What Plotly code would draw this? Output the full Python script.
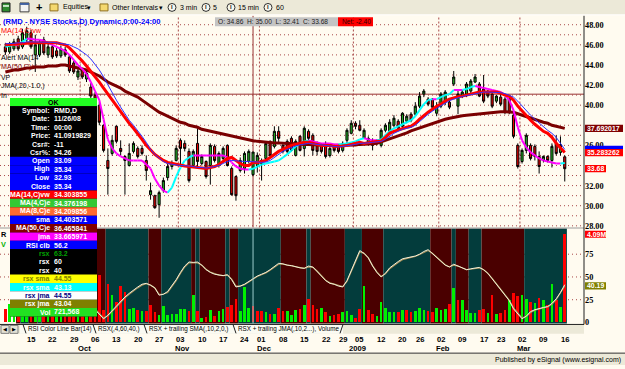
import plotly.graph_objects as go
import pandas as pd

W, H = 625, 369

# ---------------- data ----------------
holidays = ["2008-11-27", "2008-12-25", "2009-01-01", "2009-01-19", "2009-02-16"]
dates = pd.bdate_range("2008-09-05", "2009-03-16", freq="C", holidays=holidays)

opens = [45.8, 45.3, 45.6, 46.6, 45.8, 46.5, 47.2, 45.0, 45.0, 46.5,
         45.0, 45.8, 45.4, 44.9, 45.5, 44.8, 44.2, 42.8, 43.5, 42.6,
         41.8, 41.0, 40.0, 38.0, 34.5, 35.2, 37.9, 35.7, 34.9, 34.0,
         35.4, 35.7, 35.7, 34.5, 31.1, 31.0, 30.1, 31.5, 32.8, 33.9,
         34.5, 36.5, 36.2, 35.4, 34.0, 36.2, 34.2, 34.4, 34.0, 35.9,
         34.0, 34.7, 36.0, 33.7, 32.9, 33.5, 33.7, 34.4, 33.09, 34.0,
         34.2, 34.7, 36.4, 35.9, 37.4, 36.0, 36.4, 36.7, 35.0, 36.9,
         35.7, 37.4, 37.0, 36.2, 36.0, 36.2, 35.0, 35.9, 35.9, 35.5,
         36.5, 37.2, 38.2, 38.0, 36.7, 36.2, 36.5, 36.5, 36.0, 37.5,
         37.2, 38.0, 38.4, 37.9, 38.4, 39.1, 39.1, 39.9, 41.1, 40.6,
         40.6, 39.2, 39.9, 40.4, 40.3, 42.1, 39.9, 40.9, 41.1, 41.4,
         42.3, 42.1, 41.6, 41.4, 41.1, 40.4, 40.8, 40.6, 40.6, 39.0,
         36.0, 34.4, 35.5, 36.0, 35.9, 34.9, 34.5, 34.9, 34.5, 36.2,
         35.3, 34.86]
highs = [46.2, 46.3, 46.6, 46.9, 47.6, 47.8, 47.5, 47.0, 46.5, 46.8,
         46.1, 46.0, 45.7, 45.9, 45.8, 45.0, 44.4, 43.6, 43.7, 43.4,
         42.2, 41.3, 40.3, 38.1, 35.7, 37.0, 38.0, 36.5, 35.0, 36.2,
         36.4, 35.9, 36.0, 35.0, 32.3, 31.1, 31.5, 32.8, 34.2, 34.5,
         36.0, 36.7, 36.5, 35.7, 35.6, 37.7, 35.1, 34.5, 36.2, 36.1,
         35.4, 35.9, 36.1, 33.9, 33.0, 34.8, 35.4, 35.6, 35.34, 35.3,
         34.7, 36.3, 36.5, 37.9, 37.9, 36.2, 36.6, 36.9, 36.6, 37.0,
         37.9, 37.6, 37.2, 36.4, 36.2, 36.4, 35.9, 36.0, 36.0, 36.4,
         37.7, 38.5, 38.4, 38.5, 37.7, 36.9, 36.7, 36.6, 37.7, 38.2,
         38.6, 39.0, 38.6, 39.3, 39.1, 39.3, 40.3, 41.3, 41.6, 40.8,
         40.7, 40.3, 41.3, 41.5, 40.5, 43.4, 41.6, 41.5, 42.3, 42.6,
         43.1, 42.3, 43.0, 41.5, 41.3, 41.0, 41.1, 40.8, 40.8, 39.3,
         36.2, 35.7, 37.2, 36.2, 36.1, 35.4, 35.0, 35.0, 36.2, 37.0,
         36.9, 35.00]
lows = [45.0, 45.1, 45.4, 45.4, 45.6, 46.3, 45.6, 43.3, 44.8, 45.0,
        44.7, 44.6, 44.7, 44.7, 44.8, 43.2, 43.1, 42.5, 42.6, 42.3,
        40.7, 39.5, 38.0, 35.3, 31.1, 35.0, 36.2, 35.0, 31.1, 33.9,
        35.2, 34.7, 35.0, 32.5, 30.6, 29.7, 28.8, 31.3, 32.5, 33.6,
        34.4, 34.0, 35.4, 32.3, 33.8, 33.7, 34.0, 32.7, 32.1, 34.3,
        33.8, 34.5, 33.9, 31.0, 30.5, 33.3, 33.2, 34.2, 32.93, 33.3,
        32.5, 34.5, 34.8, 35.7, 36.2, 35.2, 35.2, 35.4, 34.9, 35.4,
        34.9, 36.5, 35.0, 35.0, 35.2, 34.7, 34.8, 35.3, 35.2, 35.3,
        36.2, 37.1, 37.6, 37.4, 36.7, 36.0, 35.5, 36.0, 35.8, 37.3,
        37.1, 37.8, 37.5, 37.7, 38.2, 38.3, 38.9, 39.7, 40.8, 39.9,
        39.6, 38.9, 39.7, 40.0, 39.6, 41.9, 39.1, 40.7, 40.8, 41.1,
        42.2, 40.8, 40.2, 40.7, 39.7, 40.2, 39.9, 39.1, 39.1, 36.7,
        33.7, 34.2, 35.2, 34.5, 34.5, 33.2, 34.3, 34.3, 33.8, 35.0,
        35.0, 32.41]
closes = [45.3, 46.0, 46.3, 45.6, 47.2, 47.4, 45.8, 46.0, 46.2, 45.2,
          45.8, 44.8, 44.9, 45.6, 45.0, 43.4, 43.3, 43.4, 42.8, 43.2,
          40.9, 39.8, 38.3, 35.5, 33.7, 36.5, 36.4, 35.4, 34.5, 35.2,
          36.2, 34.9, 35.2, 33.5, 31.5, 29.8, 31.3, 32.5, 33.9, 34.2,
          35.7, 35.7, 35.7, 32.5, 35.4, 34.4, 34.9, 32.9, 36.0, 34.5,
          35.2, 35.7, 34.0, 31.1, 31.0, 34.5, 35.2, 35.4, 35.34, 35.0,
          34.5, 36.2, 35.0, 37.4, 36.7, 35.4, 35.4, 35.5, 36.4, 35.5,
          37.7, 36.7, 35.5, 35.4, 35.4, 34.9, 35.7, 35.5, 35.4, 36.2,
          37.5, 38.2, 37.9, 37.5, 37.5, 36.7, 36.0, 36.2, 37.5, 38.0,
          38.3, 38.7, 37.7, 39.2, 38.9, 38.5, 39.9, 40.9, 41.4, 40.1,
          39.8, 39.9, 41.1, 41.3, 39.8, 42.8, 41.1, 41.3, 42.1, 42.4,
          42.8, 40.9, 40.4, 40.9, 39.9, 40.9, 40.1, 39.3, 39.3, 36.9,
          33.9, 35.5, 37.0, 34.7, 34.9, 33.9, 34.9, 34.5, 35.9, 35.2,
          36.08, 33.68]
volumes = [620000, 850000, 900000, 780000, 1100000, 950000, 1300000, 1800000, 1200000, 1000000,
           900000, 1100000, 850000, 800000, 950000, 1400000, 1250000, 1000000, 1100000, 1000000,
           1500000, 1700000, 2160000, 540000, 1770000, 1270000, 930000, 1670000, 1390000, 590000,
           650000, 540000, 490000, 490000, 770000, 460000, 340000, 730000, 340000, 370000,
           370000, 590000, 590000, 490000, 1240000, 490000, 190000, 230000, 540000, 280000,
           490000, 590000, 690000, 800000, 1080000, 490000, 1620000, 650000, 721568, 490000,
           490000, 460000, 390000, 370000, 650000, 490000, 490000, 340000, 540000, 590000,
           800000, 1080000, 800000, 590000, 650000, 460000, 280000, 340000, 370000, 460000,
           490000, 310000, 190000, 590000, 1670000, 540000, 390000, 280000, 930000, 650000,
           460000, 460000, 460000, 540000, 540000, 460000, 490000, 650000, 540000, 490000,
           460000, 650000, 540000, 590000, 850000, 1570000, 1000000, 1040000, 540000, 430000,
           430000, 540000, 590000, 430000, 1240000, 390000, 430000, 540000, 1000000, 1360000,
           1200000, 1270000, 1080000, 930000, 880000, 1110000, 1040000, 770000, 1740000, 1000000,
           690000, 4090000]
ma14_vw = [46.0, 46.0, 46.05, 46.1, 46.1, 46.15, 46.2, 46.2, 46.2, 46.25,
           46.25, 46.2, 46.2, 46.1, 46.0, 45.7, 45.3, 44.9, 44.4, 43.9,
           43.4, 42.9, 42.3, 41.7, 41.1, 40.5, 40.0, 39.4, 38.8, 38.2,
           37.7, 37.2, 36.6, 36.0, 35.5, 35.1, 34.8, 34.5, 34.3, 34.2,
           34.1, 34.0, 33.95, 33.9, 33.85, 33.8, 33.75, 33.7, 33.8, 33.9,
           34.1, 34.4, 34.7, 34.8, 34.5, 34.2, 34.0, 34.0, 34.303855, 34.3,
           34.4, 34.5, 34.8, 35.1, 35.4, 35.6, 35.8, 36.0, 36.1, 36.2,
           36.3, 36.3, 36.2, 36.1, 36.0, 36.0, 36.0, 35.9, 35.9, 35.95,
           36.0, 36.1, 36.2, 36.3, 36.2, 36.3, 36.35, 36.4, 36.45, 36.8,
           37.2, 37.4, 37.55, 37.7, 37.8, 37.9, 38.2, 38.6, 39.0, 39.3,
           39.6, 39.9, 40.1, 40.4, 40.6, 40.75, 40.85, 40.9, 41.0, 41.1,
           41.2, 41.3, 41.3, 41.3, 41.3, 41.3, 41.2, 41.0, 40.9, 40.5,
           39.9, 39.4, 38.9, 38.5, 38.1, 37.7, 37.4, 37.2, 36.8, 36.2,
           35.7, 35.283262]
sma = [46.1, 46.1, 46.15, 46.2, 46.2, 46.3, 46.3, 46.3, 46.3, 46.3,
       46.3, 46.25, 46.2, 46.15, 46.1, 46.0, 45.8, 45.6, 45.3, 45.0,
       44.6, 44.1, 43.5, 42.8, 42.0, 41.2, 40.5, 39.8, 39.1, 38.5,
       38.0, 37.5, 36.9, 36.3, 35.6, 35.1, 34.7, 34.4, 34.2, 34.1,
       34.05, 34.0, 34.0, 33.95, 33.9, 33.8, 33.8, 33.75, 33.8, 33.9,
       34.0, 34.2, 34.4, 34.5, 34.45, 34.4, 34.4, 34.4, 34.403571, 34.35,
       34.3, 34.35, 34.5, 34.8, 35.1, 35.4, 35.6, 35.8, 35.95, 36.05,
       36.15, 36.2, 36.15, 36.1, 36.0, 35.95, 35.9, 35.85, 35.85, 35.9,
       35.95, 36.0, 36.1, 36.2, 36.2, 36.25, 36.3, 36.35, 36.4, 36.6,
       36.9, 37.2, 37.4, 37.6, 37.7, 37.8, 38.0, 38.4, 38.8, 39.1,
       39.4, 39.7, 39.95, 40.2, 40.45, 40.6, 40.75, 40.85, 40.95, 41.05,
       41.15, 41.25, 41.3, 41.3, 41.3, 41.3, 41.25, 41.15, 41.0, 40.8,
       40.4, 39.9, 39.4, 39.0, 38.6, 38.2, 37.8, 37.5, 37.2, 36.8,
       36.2, 35.6]
ma50_e = [43.3, 43.4, 43.5, 43.5, 43.6, 43.7, 43.7, 43.8, 43.8, 43.8,
          43.9, 43.9, 43.9, 44.0, 44.0, 43.9, 43.8, 43.7, 43.6, 43.5,
          43.3, 43.1, 42.9, 42.6, 42.3, 42.1, 41.9, 41.7, 41.4, 41.2,
          41.0, 40.8, 40.5, 40.2, 39.9, 39.6, 39.3, 39.1, 38.9, 38.7,
          38.5, 38.3, 38.2, 38.0, 37.9, 37.8, 37.6, 37.5, 37.4, 37.3,
          37.2, 37.1, 37.0, 36.9, 36.8, 36.7, 36.6, 36.5, 36.465841, 36.4,
          36.35, 36.3, 36.3, 36.25, 36.25, 36.2, 36.2, 36.2, 36.15, 36.15,
          36.1, 36.1, 36.1, 36.05, 36.05, 36.0, 36.0, 36.0, 36.0, 36.0,
          36.0, 36.05, 36.05, 36.1, 36.1, 36.1, 36.15, 36.2, 36.35, 36.45,
          36.6, 36.75, 36.9, 37.05, 37.25, 37.45, 37.6, 37.75, 37.9, 38.05,
          38.15, 38.3, 38.45, 38.6, 38.7, 38.8, 38.85, 38.95, 39.0, 39.05,
          39.1, 39.15, 39.2, 39.25, 39.3, 39.3, 39.35, 39.35, 39.35, 39.3,
          39.15, 39.0, 38.85, 38.7, 38.55, 38.4, 38.3, 38.2, 38.0, 37.9,
          37.8, 37.692017]
jma = [45.8, 45.9, 46.0, 46.0, 46.3, 46.6, 46.6, 46.5, 46.5, 46.4,
       46.2, 46.0, 45.8, 45.6, 45.4, 45.0, 44.5, 44.0, 43.6, 43.1,
       42.3, 41.4, 40.5, 38.6, 36.6, 35.7, 35.2, 34.9, 34.7, 34.5,
       34.5, 34.5, 34.5, 34.1, 33.7, 32.7, 32.0, 31.5, 31.3, 31.8,
       32.9, 33.8, 34.5, 34.8, 35.0, 35.0, 35.0, 35.0, 35.0, 35.0,
       35.0, 35.0, 34.8, 34.3, 33.9, 33.7, 33.6, 33.6, 33.665971, 33.9,
       34.1, 34.2, 34.3, 34.4, 34.5, 34.8, 35.1, 35.5, 35.9, 36.2,
       36.4, 36.5, 36.4, 36.3, 36.2, 36.2, 36.2, 36.1, 36.1, 36.15,
       36.2, 36.3, 36.4, 36.6, 36.7, 36.6, 36.5, 36.5, 36.6, 37.0,
       37.4, 37.7, 37.9, 38.1, 38.3, 38.5, 38.9, 39.5, 40.1, 40.5,
       40.6, 40.6, 40.8, 41.0, 41.1, 41.5, 41.5, 41.5, 41.6, 41.8,
       41.9, 41.8, 41.7, 41.6, 41.5, 41.4, 41.3, 41.0, 40.5, 39.5,
       37.8, 36.5, 35.8, 35.3, 35.0, 34.7, 34.5, 34.4, 34.3, 34.2,
       34.2, 34.25]
rsx_line = [None, None, 57, 56, 58, 60, 56, 55, 55.5, 52,
            51, 48, 46, 45.5, 43, 38, 34, 31, 27, 24,
            19, 14, 9, 4, 8, 13, 18, 24, 28, 32,
            36, 39, 42, 43, 41, 38, 30, 31, 34, 40,
            47, 55, 62, 66.5, 66.0, 66.4, 63, 58, 55, 53,
            52, 51.5, 52.5, 47, 39, 40, 42, 45, 48, 51,
            53, 55, 58, 62, 65, 64.5, 63, 62.5, 61, 60,
            59.5, 62, 61, 56, 51, 46, 43, 42, 40, 39,
            46, 57, 70, 79, 76, 71, 62, 55, 50, 54,
            60, 64, 67, 70, 71, 72, 73, 75, 78, 80,
            76, 72, 68, 63, 61, 64, 62, 60, 58, 59,
            60, 60.5, 58, 54, 48, 42, 36, 31, 24, 15,
            9, 4, 7, 12, 14, 15.5, 16.5, 17.5, 21, 26,
            33, 41.5]
rsx_trail = [None, None, 56, 56, 57, 59, 57, 55, 55, 53,
             51, 49, 47, 45, 44, 39, 35, 32, 28, 25,
             20, 15, 10, 5, 7, 12, 17, 23, 27, 31,
             35, 38, 41, 42.5, 41, 38, 31, 31, 33, 39,
             46, 54, 61, 65.5, 65.5, 65.5, 63, 58.5, 55.5, 53.5,
             52, 51.5, 52, 47.5, 40, 40, 41.5, 44.5, 47.5, 50.5,
             52.5, 54.5, 57.5, 61, 64, 64, 63, 62, 61, 60,
             59.5, 61, 60.5, 56.5, 51.5, 46.5, 43.5, 42, 40.5, 39.5,
             45, 56, 68, 77.5, 76, 71, 62.5, 55.5, 50.5, 53.5,
             59, 63, 66, 69, 70.5, 71.5, 72.5, 74.5, 77, 79,
             76, 72, 68, 63.5, 61, 63, 62, 60, 58, 58.5,
             59.5, 60, 58, 54, 48.5, 42.5, 36.5, 31.5, 24.5, 16,
             10, 5, 6.5, 11, 13.5, 15, 16, 17, 20, 25,
             32, 40.19]

# price labels that stay visible on the right scale (38 and 34 sit under the value flags)
price_ticks = [28, 30, 32, 36, 40, 42, 44, 46, 48]
osc_ticks = [0, 25, 50, 75]
cursor_date = "2008-11-26"
cursor_price = 41.0919829
dw_extra = {"MA(4,C)e": "34.376198", "MA(8,C)e": "34.209856", "RSI clb": "56.2",
            "rsx": ["63.2", "60", "40"], "rsx sma": ["44.55", "43.13"], "rsx jma": ["44.55", "43.04"]}

n = len(dates)
for arr in (opens, highs, lows, closes, volumes, ma14_vw, sma, ma50_e, jma, rsx_line, rsx_trail):
    assert len(arr) == n, len(arr)
idx = list(range(n))

# ---------------- style ----------------
CREAM = "#FFFBF0"
XPGRAY = "#ECE9D8"
GRID = "#A84848"
TEAL = "#033C3C"
DKRED = "#4A0000"
SANS = "Liberation Sans, Arial, sans-serif"
SERIF = "Liberation Serif, Times New Roman, serif"

PLOT_R = 584
MAIN_T, MAIN_B = 16, 230
LOW_T, LOW_B = 231, 327
px_per_bar = 4.27
x_left_idx = -1.26
x_right_idx = x_left_idx + PLOT_R / px_per_bar
p_per_px = 1 / 10.165
price_top = 48 + (25 - MAIN_T) * p_per_px
price_bot = 48 - (MAIN_B - 25) * p_per_px
osc_per_px = 1 / 0.92
osc_top = (326 - LOW_T) * osc_per_px
osc_bot = (326 - LOW_B) * osc_per_px
vol_per_px = 1e6 / 21.8
vol_top = (326 - LOW_T) * vol_per_px
vol_bot = (326 - LOW_B) * vol_per_px


def X(px):
    return px / W


def Y(py):
    return 1 - py / H


def font(size=7, color="black", bold=False, family=SANS):
    return dict(family=family, size=size, color=color, weight="bold" if bold else "normal")


def txt(x, y, s, size=7, color="black", bold=False, anchor="left", bg=None, family=SANS):
    d = dict(x=X(x), y=Y(y), xref="paper", yref="paper", text=s, showarrow=False,
             xanchor=anchor, yanchor="middle", font=font(size, color, bold, family), borderpad=0)
    if bg:
        d["bgcolor"] = bg
    return d


def rect(x0, y0, x1, y1, fill, line=None, layer="above"):
    return dict(type="rect", xref="paper", yref="paper", x0=X(x0), x1=X(x1), y0=Y(y0), y1=Y(y1),
                fillcolor=fill, line=dict(width=0) if line is None else dict(color=line, width=1),
                layer=layer)


def hline(x0, x1, y, color, width=1, dash=None, layer="above"):
    d = dict(type="line", xref="paper", yref="paper", x0=X(x0), x1=X(x1), y0=Y(y), y1=Y(y),
             line=dict(color=color, width=width), layer=layer)
    if dash:
        d["line"]["dash"] = dash
    return d


shapes = []
annotations = []

# ---------------- grid (below traces) ----------------
for p in range(28, 49):
    shapes.append(dict(type="line", xref="paper", yref="y", x0=0, x1=X(PLOT_R), y0=p, y1=p,
                       line=dict(color=GRID, width=1, dash="1px,3px"), layer="below"))
for lv in osc_ticks[1:]:
    shapes.append(dict(type="line", xref="paper", yref="y2", x0=0, x1=X(PLOT_R), y0=lv, y1=lv,
                       line=dict(color=GRID, width=1, dash="1px,3px"), layer="below"))
month_starts = [k for k in range(1, n) if dates[k].month != dates[k - 1].month]
for k in month_starts:
    shapes.append(dict(type="line", xref="x", yref="paper", x0=k - 0.5, x1=k - 0.5,
                       y0=Y(MAIN_B), y1=Y(MAIN_T), line=dict(color=GRID, width=1, dash="2px,2px"),
                       layer="below"))

# oscillator direction bands
runs = []
for i in range(3, n):
    c = TEAL if rsx_line[i] > rsx_line[i - 1] else DKRED
    if runs and runs[-1][2] == c:
        runs[-1][1] = i
    else:
        runs.append([i, i, c])
for a, b, c in runs:
    shapes.append(dict(type="rect", xref="x", yref="y2 domain", x0=a - 0.5, x1=b + 0.5, y0=0, y1=1,
                       fillcolor=c, line=dict(width=0), layer="below"))

# crosshair
cursor_k = dates.get_loc(pd.Timestamp(cursor_date))
shapes.append(dict(type="line", xref="x", yref="paper", x0=cursor_k, x1=cursor_k, y0=Y(MAIN_B), y1=Y(MAIN_T),
                   line=dict(color="#993333", width=1), layer="below"))
shapes.append(dict(type="line", xref="x", yref="paper", x0=cursor_k, x1=cursor_k, y0=Y(LOW_B), y1=Y(LOW_T),
                   line=dict(color="#9CCCCC", width=1), layer="above"))
shapes.append(dict(type="line", xref="paper", yref="y", x0=0, x1=X(PLOT_R), y0=cursor_price, y1=cursor_price,
                   line=dict(color="#993333", width=1), layer="below"))

# ---------------- traces ----------------
fig = go.Figure()

vol_colors = []
for i in range(n):
    ref = closes[i - 1] if i > 0 else opens[i]
    vol_colors.append("#00F000" if closes[i] >= ref else "#FF0000")
fig.add_trace(go.Bar(x=idx, y=volumes, width=0.62, marker=dict(color=vol_colors, line=dict(width=0)),
                     xaxis="x", yaxis="y3", hoverinfo="skip", showlegend=False))
fig.add_trace(go.Scatter(x=idx, y=rsx_trail, mode="lines", line=dict(color="#A89058", width=1.2),
                         xaxis="x", yaxis="y4", hoverinfo="skip", showlegend=False))
fig.add_trace(go.Scatter(x=idx, y=rsx_line, mode="lines", line=dict(color="#F4F0D8", width=1),
                         xaxis="x", yaxis="y4", hoverinfo="skip", showlegend=False))

fig.add_trace(go.Candlestick(x=idx, open=opens, high=highs, low=lows, close=closes,
                             increasing=dict(line=dict(color="black", width=1), fillcolor="#22B022"),
                             decreasing=dict(line=dict(color="black", width=1), fillcolor="#E80000"),
                             whiskerwidth=0, xaxis="x", yaxis="y", hoverinfo="skip", showlegend=False))
fig.add_trace(go.Scatter(x=idx, y=ma50_e, mode="lines", line=dict(color="#7A0000", width=3),
                         xaxis="x", yaxis="y", hoverinfo="skip", showlegend=False))
up_x, up_y, dn_x, dn_y = [], [], [], []
for i in range(1, n):
    if jma[i] > jma[i - 1]:
        up_x += [i - 1, i, None]
        up_y += [jma[i - 1], jma[i], None]
    else:
        dn_x += [i - 1, i, None]
        dn_y += [jma[i - 1], jma[i], None]
fig.add_trace(go.Scatter(x=dn_x, y=dn_y, mode="lines", line=dict(color="#FF00FF", width=2),
                         xaxis="x", yaxis="y", hoverinfo="skip", showlegend=False))
fig.add_trace(go.Scatter(x=up_x, y=up_y, mode="lines", line=dict(color="#00FFFF", width=2),
                         xaxis="x", yaxis="y", hoverinfo="skip", showlegend=False))
fig.add_trace(go.Scatter(x=idx, y=ma14_vw, mode="lines", line=dict(color="#FF0000", width=3),
                         xaxis="x", yaxis="y", hoverinfo="skip", showlegend=False))
fig.add_trace(go.Scatter(x=idx, y=sma, mode="lines", line=dict(color="#3030FF", width=1),
                         xaxis="x", yaxis="y", hoverinfo="skip", showlegend=False))

# ---------------- frame pieces (above traces) ----------------
# toolbar
shapes.append(rect(0, 0, W, 15, XPGRAY))
shapes.append(hline(0, W, 15, "#FFFFFF"))
shapes.append(rect(2, 3, 10, 12, "#2E8B2E", "#202020"))
shapes.append(rect(3, 5, 9, 7, "#C8E8C8"))
shapes.append(rect(20, 3, 29, 12, "#F4F4F4", "#404040"))
shapes.append(rect(20, 3, 29, 5, "#4060A0"))
for fx in (50, 100):
    shapes.append(rect(fx, 4, fx + 8, 11, "#F4D870", "#907020"))
for cx in (168, 202, 227, 264):
    shapes.append(dict(type="circle", xref="paper", yref="paper", x0=X(cx), x1=X(cx + 8), y0=Y(3.5), y1=Y(11.5),
                       line=dict(color="#303030", width=1), fillcolor="#F8F8F0", layer="above"))
    annotations.append(txt(cx + 4, 7.5, "I", 6, "#202020", True, "center"))
annotations += [
    txt(38.5, 7, "+", 11, "black", True, "center"),
    txt(62, 7.5, "Equities", 7),
    txt(89, 7.5, "▾", 7, anchor="center"),
    txt(111, 7.5, "Other Intervals", 7),
    txt(161, 7.5, "▾", 7, anchor="center"),
    txt(179, 7.5, "3 min", 7),
    txt(212, 7.5, "5", 7),
    txt(237, 7.5, "15 min", 7),
    txt(275, 7.5, "60", 7),
]

# title + OHLC info
annotations.append(txt(2, 22, "(RMD - NYSE Stocks,D) Dynamic,0:00-24:00", 7.6, "#0000FF", True))
shapes.append(rect(215, 17.5, 338, 26.5, "#C4C4C4"))
shapes.append(rect(338, 17.5, 373, 26.5, "#FF0000"))
annotations.append(txt(217, 22, f"O: {opens[-1]:.2f}  H: {highs[-1]:.2f}  L: {lows[-1]:.2f}  C: {closes[-1]:.2f}",
                       6.6, "#202020"))
annotations.append(txt(341, 22, f"Net: {closes[-1] - closes[-2]:.2f}", 6.6, "#300000"))

# study labels in price pane
annotations += [
    txt(0, 31, "MA(14,C)vw", 7.3, "#FF0000"),
    txt(0, 59, "Alert MA(14", 7.1, "black"),
    txt(0, 68, "MA(50,C)e", 7.1, "#800000"),
    txt(0, 78.3, "VP", 6.9, "black"),
    txt(0, 87.4, "JMA(,20,-1.0,)", 6.9, "black"),
    txt(0, 96.6, "In", 6.9, "black"),
    txt(0, 237, "R", 7.3, "black", True),
    txt(0, 247, "V", 7.3, "#00B000", True),
]

# pane separators and right axis line
shapes.append(hline(0, PLOT_R, 230.5, "#9A9A9A"))
shapes.append(dict(type="line", xref="paper", yref="paper", x0=X(PLOT_R), x1=X(PLOT_R), y0=Y(328), y1=Y(16),
                   line=dict(color="#202020", width=1), layer="above"))

# data window
k = cursor_k
rows = [
    ("OK", None, "#22FF22", "black"),
    ("Symbol:", "RMD,D", "black", "white"),
    ("Date:", dates[k].strftime("%m/%d/%y"), "black", "white"),
    ("Time:", "00:00", "black", "white"),
    ("Price:", f"{cursor_price:.7f}", "black", "white"),
    ("Csr#:", "-11", "black", "white"),
    ("Csr%:", "54.26", "black", "white"),
    ("Open", f"{opens[k]:.2f}", "#0000FF", "white"),
    ("High", f"{highs[k]:.2f}", "#0000FF", "white"),
    ("Low", f"{lows[k]:.2f}", "#0000FF", "white"),
    ("Close", f"{closes[k]:.2f}", "#0000FF", "white"),
    ("MA(14,C)vw", f"{ma14_vw[k]:.6f}", "#FF0000", "white"),
    ("MA(4,C)e", dw_extra["MA(4,C)e"], "#33C833", "white"),
    ("MA(8,C)e", dw_extra["MA(8,C)e"], "#FF6A30", "white"),
    ("sma", f"{sma[k]:.6f}", "#0000FF", "white"),
    ("MA(50,C)e", f"{ma50_e[k]:.6f}", "#800000", "white"),
    ("jma", f"{jma[k]:.6f}", "#FF00FF", "white"),
    ("RSI clb", dw_extra["RSI clb"], "#0000FF", "white"),
    ("rsx", dw_extra["rsx"][0], "black", "#00A000"),
    ("rsx", dw_extra["rsx"][1], "black", "white"),
    ("rsx", dw_extra["rsx"][2], "black", "white"),
    ("rsx sma", dw_extra["rsx sma"][0], "#FFFF00", "#808000"),
    ("rsx sma", dw_extra["rsx sma"][1], "#00FFFF", "#F0FFFF"),
    ("rsx jma", dw_extra["rsx jma"][0], "#FFFFFF", "#000080"),
    ("rsx jma", dw_extra["rsx jma"][1], "#808000", "white"),
    ("Vol", f"{volumes[k]:,}", "#22E022", "white"),
]
DW_L, DW_R, DW_T, ROW = 10, 97, 99, 8.5
shapes.append(rect(DW_L, DW_T, DW_R, DW_T + ROW * len(rows), "black"))
for r, (lab, val, bg, fg) in enumerate(rows):
    y0 = DW_T + r * ROW
    shapes.append(rect(DW_L, y0, DW_R, y0 + ROW, bg))
    yc = y0 + ROW / 2
    if val is None:
        annotations.append(txt(53, yc, lab, 7, fg, True, "center"))
    else:
        annotations.append(txt(50.5, yc, lab, 7, fg, True, "right"))
        annotations.append(txt(52.5, yc, val, 7, fg, True, "left"))

# tab strip
shapes.append(rect(0, 328, PLOT_R, 337.5, XPGRAY))
shapes.append(rect(20, 328, 343, 337.5, "#FAFAF2"))
shapes.append(hline(0, PLOT_R, 328, "#202020"))
shapes.append(rect(1, 329, 9, 337, "#E4E2D6", "#808080"))
shapes.append(rect(10, 329, 18, 337, "#E4E2D6", "#808080"))
annotations.append(txt(5, 333, "◀", 5, "black", anchor="center"))
annotations.append(txt(14, 333, "▶", 5, "black", anchor="center"))
tabs = [(27, "RSI Color Line Bar(14)"), (97, "RSX(,4,60,40,)"), (148, "RSX + trailing SMA(,10,2,0,)"),
        (237, "RSX + trailing JMA(,10,2...), Volume")]
for tx, label in tabs:
    shapes.append(dict(type="line", xref="paper", yref="paper", x0=X(tx - 4), x1=X(tx - 1), y0=Y(328), y1=Y(337),
                       line=dict(color="#202020", width=1), layer="above"))
    annotations.append(txt(tx, 333, label, 6.3, "black"))
shapes.append(dict(type="line", xref="paper", yref="paper", x0=X(340), x1=X(343), y0=Y(337), y1=Y(328),
                   line=dict(color="#202020", width=1), layer="above"))

# date labels
week_starts = [j for j in range(3, n) if dates[j].isocalendar()[1] != dates[j - 1].isocalendar()[1]]
for j in week_starts:
    annotations.append(dict(x=j, xref="x", y=Y(343), yref="paper", text=f"{dates[j].day:02d}", showarrow=False,
                            xanchor="center", yanchor="middle", font=font(7.6, "black", True)))
for j in month_starts:
    lab = str(dates[j].year) if dates[j].month == 1 else dates[j].strftime("%b")
    annotations.append(dict(x=j + 0.5, xref="x", y=Y(352.5), yref="paper", text=lab, showarrow=False,
                            xanchor="center", yanchor="middle", font=font(7.6, "black", True)))

# status bar
shapes.append(rect(0, 357, W, H, XPGRAY))
shapes.append(hline(0, W, 357, "#303030"))
annotations.append(txt(622, 363.5, "Published by eSignal (www.esignal.com)", 7, "black", anchor="right"))


# right axis value flags: a pixel-sized box at the value, then its text
def flag(yref, val, s, bg, width, show_text=True):
    shapes.append(dict(type="rect", xref="paper", x0=X(PLOT_R + 1), x1=X(PLOT_R + 1 + width),
                       yref=yref, ysizemode="pixel", yanchor=val, y0=-3.6, y1=3.6,
                       fillcolor=bg, line=dict(width=0), layer="above"))
    if show_text:
        annotations.append(dict(x=X(PLOT_R + 1.5), xref="paper", y=val, yref=yref, text=s, showarrow=False,
                                xanchor="left", yanchor="middle", font=font(6.9, "white", True), borderpad=0))


flag("y", ma50_e[-1], f"{ma50_e[-1]:.6f}", "#800000", 38)
flag("y", sma[-1], f"{sma[-1]:.6f}", "#0000FF", 38, show_text=False)  # hidden under the MA(14) flag
flag("y", ma14_vw[-1], f"{ma14_vw[-1]:.6f}", "#FF0000", 38)
flag("y", closes[-1], f"{closes[-1]:.2f}", "#FF0000", 21)
flag("y3", volumes[-1], f"{volumes[-1] / 1e6:.2f}M", "#FF0000", 21)
flag("y4", rsx_trail[-1], f"{rsx_trail[-1]:.2f}", "#808000", 21)

tickfont = font(8.3, "black", True, SERIF)
fig.update_layout(
    width=W, height=H, autosize=False,
    margin=dict(l=0, r=0, t=0, b=0, pad=0),
    paper_bgcolor=CREAM, plot_bgcolor="rgba(0,0,0,0)",
    showlegend=False, bargap=0,
    xaxis=dict(domain=[0, X(PLOT_R)], range=[x_left_idx, x_right_idx], showgrid=False, zeroline=False,
               showticklabels=False, showline=False, ticks="", rangeslider=dict(visible=False),
               anchor="y2", fixedrange=True),
    yaxis=dict(domain=[Y(MAIN_B), Y(MAIN_T)], range=[price_bot, price_top], side="right", anchor="x",
               tickvals=price_ticks, ticktext=[f"{v:.2f}" for v in price_ticks], tickfont=tickfont,
               showgrid=False, zeroline=False, ticks="", showline=False, fixedrange=True),
    yaxis2=dict(domain=[Y(LOW_B), Y(LOW_T)], range=[osc_bot, osc_top], side="right", anchor="x",
                tickvals=osc_ticks, ticktext=[str(v) for v in osc_ticks], tickfont=tickfont,
                showgrid=False, zeroline=False, ticks="", showline=False, fixedrange=True),
    yaxis3=dict(overlaying="y2", range=[vol_bot, vol_top], visible=False, fixedrange=True),
    yaxis4=dict(overlaying="y2", range=[osc_bot, osc_top], visible=False, fixedrange=True),
    shapes=shapes,
    annotations=annotations,
)

fig.write_html("out.html", post_script="document.body.style.margin='0';")
